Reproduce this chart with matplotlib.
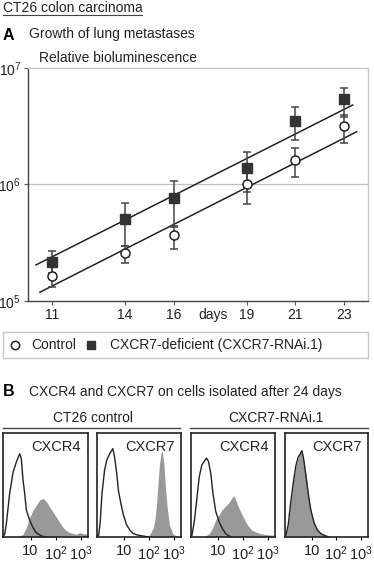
import numpy as np
import matplotlib
matplotlib.use("Agg")
import matplotlib.pyplot as plt
from matplotlib.lines import Line2D
from matplotlib.ticker import FixedLocator, NullLocator

plt.rcParams['font.family'] = ['Liberation Sans', 'DejaVu Sans']
plt.rcParams['mathtext.fontset'] = 'custom'
plt.rcParams['mathtext.rm'] = 'Liberation Sans'
plt.rcParams['mathtext.default'] = 'regular'

# ---- panel A data ----
days = [11, 14, 16, 19, 21, 23]
ctrl = [1.65e5, 2.57e5, 3.7e5, 1.0e6, 1.61e6, 3.16e6]
ctrl_hi = [2.0e5, 2.98e5, 4.4e5, 1.3e6, 2.07e6, 3.95e6]
ctrl_lo = [1.33e5, 2.1e5, 2.8e5, 6.8e5, 1.15e6, 2.26e6]
ko = [2.15e5, 5.03e5, 7.6e5, 1.39e6, 3.53e6, 5.37e6]
ko_hi = [2.7e5, 6.9e5, 1.08e6, 1.91e6, 4.65e6, 6.76e6]
ko_lo = [1.75e5, 2.98e5, 4.3e5, 8.7e5, 2.41e6, 3.82e6]
# fitted lines, end points
fit_ctrl_x = [10.49, 23.54]
fit_ctrl_y = [1.19e5, 2.84e6]
fit_ko_x = [10.33, 23.37]
fit_ko_y = [2.04e5, 4.81e6]

# ---- panel B data: log10 fluorescence vs relative counts ----
c4_ctrl_iso_x = [-0.1, -0.033, 0.033, 0.167, 0.3, 0.433, 0.567, 0.633, 0.7, 0.767, 0.833, 0.967, 1.1, 1.233, 1.367, 1.5, 1.7]
c4_ctrl_iso_y = [0.0, 0.026, 0.125, 0.42, 0.62, 0.72, 0.80, 0.75, 0.55, 0.42, 0.26, 0.16, 0.09, 0.04, 0.02, 0.005, 0.0]
c4_ctrl_x = [0.5, 0.7, 0.833, 0.967, 1.1, 1.233, 1.367, 1.5, 1.633, 1.767, 1.9, 2.033, 2.167, 2.3, 2.433, 2.567, 2.7, 2.833, 2.967, 3.1, 3.3]
c4_ctrl_y = [0.0, 0.026, 0.092, 0.19, 0.257, 0.307, 0.356, 0.373, 0.34, 0.29, 0.24, 0.19, 0.14, 0.092, 0.059, 0.043, 0.033, 0.026, 0.043, 0.033, 0.026]

c7_ctrl_iso_x = [-0.1, -0.033, 0.033, 0.1, 0.207, 0.3, 0.433, 0.54, 0.607, 0.7, 0.767, 0.873, 0.967, 1.1, 1.233, 1.367, 1.567, 1.833, 2.0]
c7_ctrl_iso_y = [0.0, 0.017, 0.149, 0.413, 0.644, 0.743, 0.809, 0.85, 0.776, 0.61, 0.446, 0.314, 0.215, 0.116, 0.066, 0.033, 0.017, 0.007, 0.0]
c7_ctrl_x = [1.9, 2.033, 2.167, 2.233, 2.3, 2.367, 2.433, 2.5, 2.54, 2.607, 2.66, 2.74, 2.833, 2.967, 3.1, 3.233]
c7_ctrl_y = [0.0, 0.023, 0.083, 0.149, 0.281, 0.512, 0.71, 0.815, 0.825, 0.71, 0.512, 0.281, 0.116, 0.033, 0.01, 0.0]

c4_kd_iso_x = [-0.1, -0.06, 0.033, 0.127, 0.233, 0.34, 0.433, 0.527, 0.607, 0.7, 0.793, 0.9, 1.033, 1.167, 1.3, 1.433, 1.567]
c4_kd_iso_y = [0.0, 0.017, 0.149, 0.347, 0.578, 0.693, 0.726, 0.759, 0.726, 0.611, 0.413, 0.248, 0.149, 0.083, 0.033, 0.01, 0.0]
c4_kd_x = [0.433, 0.633, 0.767, 0.9, 1.033, 1.167, 1.3, 1.433, 1.567, 1.633, 1.7, 1.833, 1.967, 2.1, 2.233, 2.367, 2.567, 2.767, 2.967, 3.233]
c4_kd_y = [0.0, 0.033, 0.083, 0.165, 0.215, 0.264, 0.297, 0.33, 0.38, 0.396, 0.363, 0.281, 0.215, 0.149, 0.099, 0.066, 0.043, 0.03, 0.023, 0.017]

c7_kd_x = [-0.1, -0.06, 0.033, 0.127, 0.233, 0.34, 0.433, 0.527, 0.593, 0.66, 0.767, 0.873, 0.967, 1.1, 1.233, 1.367, 1.5, 1.7]
c7_kd_y = [0.0, 0.017, 0.116, 0.314, 0.512, 0.677, 0.759, 0.809, 0.825, 0.759, 0.578, 0.38, 0.248, 0.132, 0.066, 0.033, 0.017, 0.0]
c7_kd_iso_x = c7_kd_x
c7_kd_iso_y = [0.0, 0.017, 0.12, 0.32, 0.51, 0.68, 0.765, 0.80, 0.83, 0.755, 0.575, 0.38, 0.25, 0.13, 0.066, 0.033, 0.017, 0.0]

hist_panels = [
    ("CXCR4", c4_ctrl_iso_x, c4_ctrl_iso_y, c4_ctrl_x, c4_ctrl_y),
    ("CXCR7", c7_ctrl_iso_x, c7_ctrl_iso_y, c7_ctrl_x, c7_ctrl_y),
    ("CXCR4", c4_kd_iso_x, c4_kd_iso_y, c4_kd_x, c4_kd_y),
    ("CXCR7", c7_kd_iso_x, c7_kd_iso_y, c7_kd_x, c7_kd_y),
]

W, H = 374, 561
fig = plt.figure(figsize=(W / 100, H / 100), dpi=100)


def box(x0, y0, x1, y1):
    # pixel box (top-left origin) -> figure rect
    return [x0 / W, 1 - y1 / H, (x1 - x0) / W, (y1 - y0) / H]


def fline(x0, y0, x1, y1, **kw):
    fig.add_artist(Line2D([x0 / W, x1 / W], [1 - y0 / H, 1 - y1 / H], transform=fig.transFigure, **kw))


def ftext(x, y, s, **kw):
    fig.text(x / W, 1 - y / H, s, **kw)


ftext(3, 8, "CT26 colon carcinoma", fontsize=10, va='center', color='#222222')
fline(3, 15, 142, 15, color='#444444', lw=0.8)
ftext(3, 36, "A", fontsize=11.5, fontweight='bold', va='center')
ftext(29, 34, "Growth of lung metastases", fontsize=10, va='center', color='#222222')
ftext(39, 58, "Relative bioluminescence", fontsize=10, va='center', color='#222222')

ax = fig.add_axes(box(28, 68, 368, 301))
ax.set_yscale('log')
ax.set_xlim(10, 24)
ax.set_ylim(1e5, 1e7)
ax.axhline(1e6, color='#c0c0c0', lw=0.9, zorder=0)
ax.plot(fit_ctrl_x, fit_ctrl_y, color='#222222', lw=1.1, zorder=2)
ax.plot(fit_ko_x, fit_ko_y, color='#222222', lw=1.1, zorder=2)
ax.errorbar(days, ctrl, yerr=[np.subtract(ctrl, ctrl_lo), np.subtract(ctrl_hi, ctrl)],
            fmt='none', ecolor='#444444', elinewidth=1.1, capsize=3, capthick=1.1, zorder=3)
ax.errorbar(days, ko, yerr=[np.subtract(ko, ko_lo), np.subtract(ko_hi, ko)],
            fmt='none', ecolor='#444444', elinewidth=1.1, capsize=3, capthick=1.1, zorder=3)
ax.plot(days, ctrl, 'o', ms=6.5, mfc='white', mec='#222222', mew=1.1, zorder=4)
ax.plot(days, ko, 's', ms=6.5, mfc='#333333', mec='#333333', zorder=4)
ax.xaxis.set_major_locator(FixedLocator(days))
ax.set_xticklabels([str(d) for d in days])
ax.yaxis.set_major_locator(FixedLocator([1e5, 1e6, 1e7]))
ax.set_yticklabels(['$10^5$', '$10^6$', '$10^7$'])
ax.yaxis.set_minor_locator(NullLocator())
ax.tick_params(axis='both', length=3, width=0.8, color='#555555', labelsize=10, labelcolor='#222222', pad=2)
ax.tick_params(axis='x', pad=2)
for s in ['left', 'bottom']:
    ax.spines[s].set_color('#444444')
    ax.spines[s].set_linewidth(1.0)
for s in ['top', 'right']:
    ax.spines[s].set_color('#c8c8c8')
    ax.spines[s].set_linewidth(1.0)
ax.text(17.6, -0.06, "days", transform=ax.get_xaxis_transform(), ha='center', va='center',
        fontsize=10, color='#222222')

# legend box
lg = fig.add_axes(box(3, 332, 368, 358))
lg.set_xlim(0, W)
lg.set_ylim(0, 1)
lg.set_xticks([])
lg.set_yticks([])
for s in lg.spines.values():
    s.set_color('#c8c8c8')
    s.set_linewidth(1.0)
lg.plot([15 - 3], [0.5], 'o', ms=6, mfc='white', mec='#222222', mew=1.1)
lg.text(32 - 3, 0.5, "Control", va='center', fontsize=10, color='#222222')
lg.plot([93 - 3], [0.5], 's', ms=6, mfc='#333333', mec='#333333')
lg.text(113 - 3, 0.5, "CXCR7-deficient (CXCR7-RNAi.1)", va='center', fontsize=10, color='#222222')

# panel B
ftext(3, 392, "B", fontsize=11.5, fontweight='bold', va='center')
ftext(29, 392, "CXCR4 and CXCR7 on cells isolated after 24 days", fontsize=10, va='center', color='#222222')
ftext(93, 418, "CT26 control", fontsize=10, ha='center', va='center', color='#222222')
ftext(276, 418, "CXCR7-RNAi.1", fontsize=10, ha='center', va='center', color='#222222')
fline(3, 428, 180, 428, color='#444444', lw=1.0)
fline(190, 428, 368, 428, color='#444444', lw=1.0)

box_x = [(3, 88), (97, 181), (191, 275), (285, 368)]
for (x0, x1), (name, ix, iy, fx_, fy_) in zip(box_x, hist_panels):
    h = fig.add_axes(box(x0, 433, x1, 537))
    h.set_xscale('log')
    h.set_xlim(10 ** -0.1, 10 ** 3.3)
    h.set_ylim(0, 1)
    h.fill_between(np.power(10.0, fx_), fy_, 0, color='#999999', lw=0, zorder=1)
    h.plot(np.power(10.0, ix), iy, color='#222222', lw=1.0, zorder=2)
    h.xaxis.set_major_locator(FixedLocator([10, 100, 1000]))
    h.xaxis.set_minor_locator(NullLocator())
    h.set_xticklabels(['10', '$10^2$', '$10^3$'])
    h.set_yticks([])
    h.tick_params(axis='x', length=2, width=0.8, labelsize=10.5, labelcolor='#222222', pad=3)
    for s in h.spines.values():
        s.set_color('#222222')
        s.set_linewidth(1.2)
    h.text(0.92, 0.87, name, transform=h.transAxes, ha='right', va='center', fontsize=10.5, color='#222222')

fig.savefig("out.png", dpi=100)
